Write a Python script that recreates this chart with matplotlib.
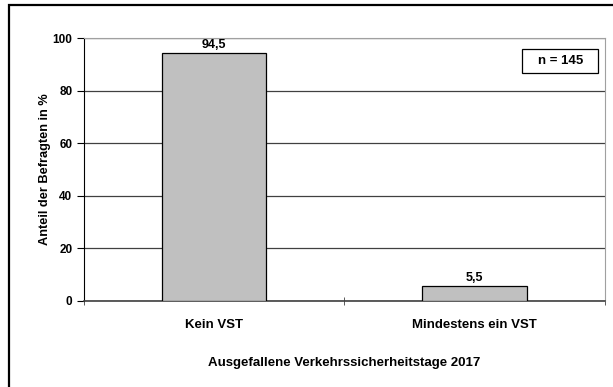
import matplotlib.pyplot as plt
from matplotlib.patches import Rectangle

categories = ["Kein VST", "Mindestens ein VST"]
values = [94.5, 5.5]
y_ticks = [0, 20, 40, 60, 80, 100]
sample_size = 145

plt.rcParams['font.family'] = ['Liberation Sans', 'DejaVu Sans']
plt.rcParams['font.weight'] = 'bold'

fig = plt.figure(figsize=(6.13, 3.87), dpi=100)
ax = fig.add_axes([83.5 / 613, 1 - 300.5 / 387, (605 - 83.5) / 613, (300.5 - 38.3) / 387])

# outer chart frame, open at the right and bottom edge
fig.patches.append(Rectangle((8.5 / 613, -0.05), 1.2, 1 - 4.5 / 387 + 0.05,
                             transform=fig.transFigure, fill=False,
                             edgecolor='black', linewidth=1.6))

x = list(range(len(categories)))
ax.bar(x, values, width=0.4, color='#c0c0c0', edgecolor='black', linewidth=0.9, zorder=3)
for xi, v in zip(x, values):
    ax.text(xi, v + 0.8, f"{v:.1f}".replace('.', ','), ha='center', va='bottom',
            fontsize=9, fontweight='bold')

ax.set_xlim(-0.5, 1.5)
ax.set_ylim(0, 100)
ax.set_yticks(y_ticks)
ax.set_yticklabels([str(t) for t in y_ticks], fontsize=8.5, fontweight='bold')
ax.yaxis.grid(True, color='#404040', linewidth=0.9, zorder=0)

ax.set_xticks(x)
ax.set_xticklabels(categories, fontsize=9.5, fontweight='bold')
ax.tick_params(axis='x', which='major', length=0, pad=13)
ax.set_xticks([-0.5, 0.5, 1.5], minor=True)
ax.tick_params(axis='x', which='minor', direction='inout', length=6, color='#404040')
ax.tick_params(axis='y', length=5, color='black', pad=3)

ax.spines['left'].set_color('black')
ax.spines['bottom'].set_color('#404040')
ax.spines['bottom'].set_linewidth(1.2)
ax.spines['top'].set_color('#a0a0a0')
ax.spines['right'].set_color('#a0a0a0')

ax.set_ylabel("Anteil der Befragten in %", fontsize=9.2, fontweight='bold', labelpad=1)
fig.text(0.5 * (83.5 + 605) / 613, 1 - 363 / 387, "Ausgefallene Verkehrssicherheitstage 2017",
         ha='center', va='center', fontsize=9.5, fontweight='bold')

# sample size box
ax.add_patch(Rectangle((0.841, 0.868), 0.146, 0.091, transform=ax.transAxes,
                       facecolor='white', edgecolor='black', linewidth=0.9, zorder=4))
ax.text(0.914, 0.913, f"n = {sample_size}", transform=ax.transAxes, ha='center', va='center',
        fontsize=9.5, fontweight='bold', zorder=5)

fig.savefig("out.png", dpi=100)
